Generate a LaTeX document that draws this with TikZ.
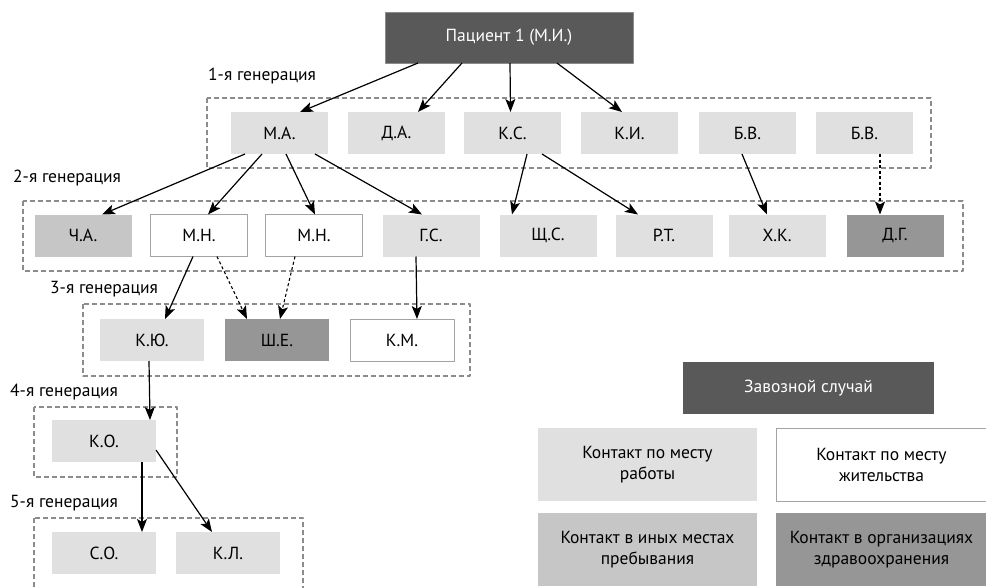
\documentclass[tikz,border=0pt]{standalone}
\usepackage{fontspec}
\setmainfont{PT Sans}
\usepackage{tikz}
\usetikzlibrary{arrows.meta}
\usetikzlibrary{calc}
\tikzset{>={Stealth[length=13pt,width=10pt,inset=3pt]}}

\definecolor{darkbox}{HTML}{595959}
\definecolor{lightbox}{HTML}{E0E0E0}
\definecolor{midbox}{HTML}{C6C6C6}
\definecolor{deepbox}{HTML}{969696}
\definecolor{framegray}{HTML}{8C8C8C}

\begin{document}
\begin{tikzpicture}[x=1pt,y=-1pt,line join=round,
	font=\fontsize{17.5}{21}\selectfont,
	box/.style={minimum width=97pt,minimum height=42pt,inner sep=0pt,outer sep=0pt},
	work/.style={box,fill=lightbox},
	home/.style={box,fill=white,draw=framegray!80,line width=0.9pt},
	other/.style={box,fill=midbox},
	clinic/.style={box,fill=deepbox},
	import/.style={box,fill=darkbox,text=white},
	legend/.style={align=center,minimum height=73pt},
	gen/.style={draw=framegray,line width=1.3pt,dash pattern=on 5pt off 3pt},
	genlabel/.style={anchor=west,inner sep=0pt},
	link/.style={->,line width=1.2pt},
	maybe/.style={->,line width=1.1pt,dash pattern=on 3pt off 2.5pt}]
	\clip (0,0) rectangle (986,587);
	\fill[white] (0,0) rectangle (986,587);
	% index case
	\node[import,draw=framegray,minimum width=248pt,minimum height=51pt] (pat) at (509,37.5) {Пациент 1 (М.И.)};
	% 1st generation
	\node[genlabel] (g1) at (208,76) {1-я генерация};
	\draw[gen] (207,98) rectangle (931,168);
	\node[work] (ma) at (279.5,133) {М.А.};
	\node[work] (da) at (396.5,133) {Д.А.};
	\node[work] (ks) at (512.5,133) {К.С.};
	\node[work] (ki) at (629.5,133) {К.И.};
	\node[work] (bv) at (747.5,133) {Б.В.};
	\node[work] (bvb) at (864.5,133) {Б.В.};
	% 2nd generation
	\node[genlabel] (g2) at (13,178) {2-я генерация};
	\draw[gen] (23,201) rectangle (963,271);
	\node[other] (ca) at (83,235.5) {Ч.А.};
	\node[home] (mn) at (199,235.5) {М.Н.};
	\node[home] (mnb) at (314,235.5) {М.Н.};
	\node[work] (gs) at (431,235.5) {Г.С.};
	\node[work] (shs) at (548,235.5) {Щ.С.};
	\node[work] (rt) at (664,235.5) {Р.Т.};
	\node[work] (hk) at (777,235.5) {Х.К.};
	\node[clinic] (dg) at (895,235.5) {Д.Г.};
	% 3rd generation
	\node[genlabel] (g3) at (50,289) {3-я генерация};
	\draw[gen] (83,304) rectangle (470,376);
	\node[work,minimum width=104pt] (ku) at (152,340) {К.Ю.};
	\node[clinic,minimum width=104pt] (she) at (277,340) {Ш.Е.};
	\node[home,minimum width=104pt] (km) at (402,340) {К.М.};
	% 4th generation
	\node[genlabel] (g4) at (10,392) {4-я генерация};
	\draw[gen] (34,407) rectangle (177,477);
	\node[work,minimum width=104pt] (ko) at (104,441) {К.О.};
	% 5th generation
	\node[genlabel] (g5) at (10,503) {5-я генерация};
	\draw[gen] (34,518) rectangle (303,600);
	\node[work,minimum width=104pt] (so) at (104,553) {С.О.};
	\node[work,minimum width=104pt] (kl) at (228,553) {К.Л.};
	% legend
	\node[import,minimum width=251pt,minimum height=52pt] (limp) at (808.5,388) {Завозной случай};
	\node[work,legend,minimum width=219pt] (lwork) at (647.5,464.5) {Контакт по месту\\работы};
	\node[home,legend,minimum width=211pt] (lhome) at (881.5,464.5) {Контакт по месту\\жительства};
	\node[other,legend,minimum width=219pt] (lother) at (647.5,549.5) {Контакт в иных местах\\пребывания};
	\node[clinic,legend,minimum width=211pt] (lclinic) at (881.5,549.5) {Контакт в организациях\\здравоохранения};
	% links
	\draw[link] ($(pat.south)+(-91,0)$) -- ($(ma.north)+(20.5,0)$);
	\draw[link] ($(pat.south)+(-47,0)$) -- ($(da.north)+(21.5,0)$);
	\draw[link] ($(pat.south)+(1,0)$) -- ($(ks.north)+(-2,0)$);
	\draw[link] ($(pat.south)+(48,0)$) -- ($(ki.north)+(-7.5,0)$);
	\draw[link] ($(ma.south)+(-34.5,0)$) -- ($(ca.north)+(19,0)$);
	\draw[link] ($(ma.south)+(-17.5,0)$) -- ($(mn.north)+(9,0)$);
	\draw[link] ($(ma.south)+(6.5,0)$) -- ($(mnb.north)+(1,0)$);
	\draw[link] ($(ma.south)+(35.5,0)$) -- ($(gs.north)+(-9,0)$);
	\draw[link] ($(ks.south)+(14.5,0)$) -- ($(shs.north)+(-36,0)$);
	\draw[link] ($(ks.south)+(29.5,0)$) -- ($(rt.north)+(-26,0)$);
	\draw[link] ($(bv.south)+(-5.5,0)$) -- ($(hk.north)+(-10,0)$);
	\draw[maybe] ($(bvb.south)+(15.5,0)$) -- ($(dg.north)+(-15,0)$);
	\draw[link] ($(mn.south)+(-6,0)$) -- ($(ku.north)+(13,0)$);
	\draw[maybe] ($(mn.south)+(18,0)$) -- ($(she.north)+(-30,0)$);
	\draw[maybe] ($(mnb.south)+(-19,0)$) -- ($(she.north)+(3,0)$);
	\draw[link] ($(gs.south)+(-15,0)$) -- ($(km.north)+(15,0)$);
	\draw[link] ($(ku.south)+(-3,0)$) -- ($(ko.north)+(46,0)$);
	\draw[link] ($(ko.south)+(38,0)$) -- ($(so.north)+(38,0)$);
	\draw[link] ($(ko.east)+(0,9)$) -- ($(kl.north)+(-16,0)$);
\end{tikzpicture}
\end{document}
